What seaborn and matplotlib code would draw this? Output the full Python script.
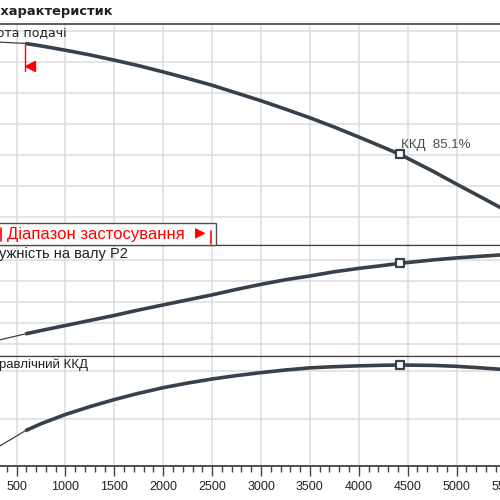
import numpy as np
import pandas as pd
import matplotlib.pyplot as plt
import seaborn as sns
from matplotlib.lines import Line2D
from matplotlib.patches import Rectangle

sns.set_theme(style='white')
plt.rcParams['font.family'] = ['Liberation Sans', 'DejaVu Sans']

# подача, м3/год
q_flow = [330, 590, 750, 1000, 1250, 1500, 1750, 2000, 2250, 2500, 2750, 3000,
          3250, 3500, 3750, 4000, 4250, 4420, 4750, 5000, 5250, 5450]
# висота подачі, м
head = [68.2, 68.0, 67.6, 66.9, 66.15, 65.3, 64.4, 63.4, 62.35, 61.25, 60.0,
        58.75, 57.4, 56.0, 54.5, 52.9, 51.25, 50.1, 47.45, 45.3, 43.2, 41.5]
# потужність на валу P2, кВт
power = [210, 224, 232, 244, 256, 268, 281, 293, 305, 317, 330, 342,
         353, 362, 372, 380, 387, 392, 400, 405, 409, 412]
# гідравлічний ККД, %
eff = [16.9, 29.7, 35.6, 43.4, 50.0, 56.0, 61.3, 66.0, 69.9, 73.3, 76.2, 78.7,
       80.9, 82.7, 83.7, 84.4, 84.9, 85.1, 84.8, 84.0, 82.7, 81.5]

duty_q = 4420          # робоча точка
range_start_q = 590    # початок діапазону застосування
x_ticks = list(range(500, 5501, 500))

curve_col = '#37414b'
grid_col = '#dcdcdc'
spine_col = '#444444'

df = pd.DataFrame({'q': q_flow, 'head': head, 'power': power, 'eff': eff})
thin = df[df['q'] <= range_start_q]
thick = df[df['q'] >= range_start_q]
duty = df[df['q'] == duty_q]

fig = plt.figure(figsize=(5, 5), dpi=100)
ax1 = fig.add_axes([-0.1, 0.51, 1.2, 0.442])
ax2 = fig.add_axes([-0.1, 0.288, 1.2, 0.222], sharex=ax1)
ax3 = fig.add_axes([-0.1, 0.068, 1.2, 0.22], sharex=ax1)

panels = [(ax1, 'head', (35.48, 71.13), np.arange(40, 71, 5)),
          (ax2, 'power', (171.4, 435.7), np.arange(200, 401, 50)),
          (ax3, 'eff', (0, 92.7), [0, 40, 80])]

for ax, col, ylim, yt in panels:
    sns.lineplot(data=thin, x='q', y=col, ax=ax, color=curve_col, lw=0.9,
                 estimator=None, sort=False)
    sns.lineplot(data=thick, x='q', y=col, ax=ax, color=curve_col, lw=2.6,
                 estimator=None, sort=False, solid_capstyle='butt',
                 solid_joinstyle='round')
    sns.scatterplot(data=duty, x='q', y=col, ax=ax, marker='s', s=32,
                    facecolor='white', edgecolor=curve_col, linewidth=1.6,
                    zorder=5)
    ax.set_xlim(-180, 5955)
    ax.set_ylim(*ylim)
    ax.set_yticks(yt)
    ax.set_xticks(x_ticks)
    ax.set_xticks(range(300, 5901, 100), minor=True)
    ax.grid(True, which='major', color=grid_col, lw=1.1)
    ax.set_axisbelow(True)
    ax.set_xlabel('')
    ax.set_ylabel('')
    ax.spines['left'].set_visible(False)
    ax.spines['right'].set_visible(False)
    for s in ('top', 'bottom'):
        ax.spines[s].set_color(spine_col)
        ax.spines[s].set_linewidth(0.9)
    ax.tick_params(axis='y', left=False, labelleft=False)

ax1.spines['top'].set_linewidth(1.2)
for ax in (ax1, ax2):
    ax.tick_params(axis='x', which='both', bottom=False, labelbottom=False)

ax3.spines['bottom'].set_linewidth(1.3)
ax3.tick_params(axis='x', which='major', direction='out', length=7, width=1,
                color=spine_col, pad=4, labelsize=9, labelcolor='#222222',
                bottom=True)
ax3.tick_params(axis='x', which='minor', direction='out', length=4, width=1,
                color=spine_col, bottom=True)
ax3.set_xticklabels([str(t) for t in x_ticks])

# межа діапазону застосування на кривій висоти
h_start = df.loc[df['q'] == range_start_q, 'head'].iloc[0]
ax1.plot([range_start_q, range_start_q], [h_start, 63.5], color='red', lw=1)
ax1.plot([range_start_q + 53], [64.35], marker='<', color='red', ms=7.5,
         mec='red')

# ККД у робочій точці
h_duty = duty['head'].iloc[0]
e_duty = duty['eff'].iloc[0]
ax1.annotate(f'ККД  {e_duty:.1f}%', xy=(duty_q, h_duty), xytext=(1, 7),
             textcoords='offset points', ha='left', va='center',
             fontsize=9.5, color='#4a4a4a')

# підписи
fig.text(0.225, 0.976, 'Графік характеристик', ha='right', va='center',
         fontsize=9.4, fontweight='bold', family=['DejaVu Sans'],
         color='#222222')
fig.text(0.134, 1 - 33 / 500, 'Висота подачі', ha='right', va='center',
         fontsize=9, family=['DejaVu Sans'], color='#222222')
fig.text(0.256, 1 - 254 / 500, 'Потужність на валу P2', ha='right',
         va='center', fontsize=10.5, color='#222222')
fig.text(0.176, 1 - 365 / 500, 'Гідравлічний ККД', ha='right', va='center',
         fontsize=9.5, color='#222222')

# діапазон застосування
fig.patches.append(Rectangle((-0.01, 0.51), 0.442, 0.044,
                             transform=fig.transFigure, facecolor='white',
                             edgecolor='#505050', lw=1, zorder=3))
fig.text(0.014, 1 - 234 / 500, 'Діапазон застосування', ha='left',
         va='center', fontsize=12, color='#ff0000', zorder=4)
fig.text(0.39, 1 - 232 / 500, '▶', ha='left', va='center', fontsize=10,
         family=['DejaVu Sans'], color='#ff0000', zorder=4)
fig.lines.append(Line2D([0.002, 0.002], [1 - 241 / 500, 1 - 228 / 500],
                        transform=fig.transFigure, color='#ff0000', lw=1.2,
                        zorder=4))
fig.lines.append(Line2D([0.422, 0.422], [1 - 244 / 500, 1 - 231 / 500],
                        transform=fig.transFigure, color='#ff0000', lw=1.2,
                        zorder=4))

fig.savefig('out.png', dpi=100)
